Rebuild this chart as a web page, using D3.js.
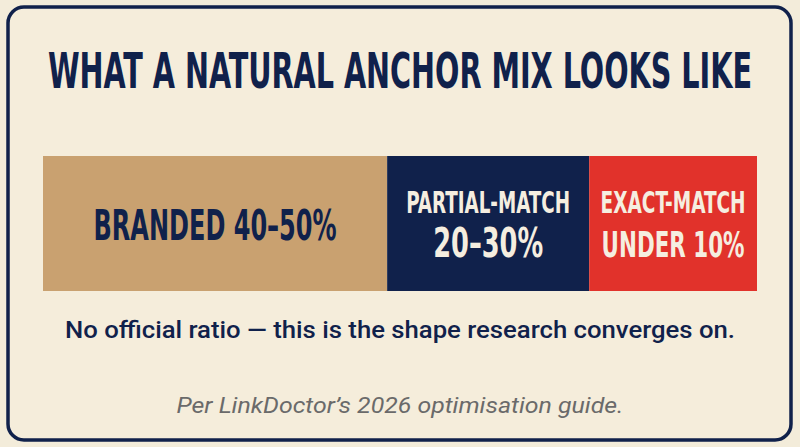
<!DOCTYPE html>
<html>
<head>
<meta charset="utf-8">
<title>Anchor mix</title>
<style>
  body { margin: 0; background: #f3ecda; }
  svg { display: block; }
</style>
</head>
<body>
<script src="https://d3js.org/d3.v7.min.js"></script>
<script>

var width = 800, height = 447;

// segment data (widths, as share of bar)
var segments = ['branded', 'partial', 'exact'];
var shares = [48.2, 28.3, 23.5];
var labels = [['BRANDED 40\u201350%'], ['PARTIAL-MATCH', '20\u201330%'], ['EXACT-MATCH', 'UNDER 10%']];
var labelWidths = [[243], [164, 110], [145, 143]];
var fills = ['#c9a170', '#10214b', '#e1322b'];
var textColors = ['#10214b', '#f5eee0', '#f5eee0'];

var navy = '#10214b';
var cond = '"DejaVu Sans Condensed", "DejaVu Sans", sans-serif';

var svg = d3.select('body').append('svg')
    .attr('width', width)
    .attr('height', height);

// card
svg.append('rect')
    .attr('x', 8).attr('y', 7)
    .attr('width', 783).attr('height', 433)
    .attr('rx', 16)
    .attr('fill', '#f5eddb')
    .attr('stroke', navy)
    .attr('stroke-width', 3.5);

svg.append('text')
    .attr('x', 400).attr('y', 88)
    .attr('text-anchor', 'middle')
    .attr('textLength', 704)
    .attr('lengthAdjust', 'spacingAndGlyphs')
    .style('font-family', cond)
    .style('font-weight', 'bold')
    .style('font-size', '49px')
    .attr('fill', navy)
    .text('WHAT A NATURAL ANCHOR MIX LOOKS LIKE');

var cum = [0];
shares.forEach(function (s, i) { cum.push(cum[i] + s); });

var x = d3.scaleLinear()
    .domain([0, d3.sum(shares)])
    .range([43, 757]);

var barTop = 156, barH = 135;

var seg = svg.selectAll('g.seg')
    .data(segments)
    .enter().append('g')
    .attr('class', 'seg');

seg.append('rect')
    .attr('x', function (d, i) { return x(cum[i]); })
    .attr('y', barTop)
    .attr('width', function (d, i) { return x(cum[i + 1]) - x(cum[i]); })
    .attr('height', barH)
    .attr('fill', function (d, i) { return fills[i]; });

seg.each(function (d, i) {
    var g = d3.select(this);
    var cx = (x(cum[i]) + x(cum[i + 1])) / 2;
    var lines = labels[i];
    lines.forEach(function (t, j) {
        var size, y;
        if (lines.length === 1) { size = 42; y = 240; }
        else if (j === 0) { size = 31; y = 213; }
        else { size = i === 1 ? 40 : 36; y = 257; }
        g.append('text')
            .attr('x', cx)
            .attr('y', y)
            .attr('text-anchor', 'middle')
            .attr('textLength', labelWidths[i][j])
            .attr('lengthAdjust', 'spacingAndGlyphs')
            .style('font-family', cond)
            .style('font-weight', 'bold')
            .style('font-size', size + 'px')
            .attr('fill', textColors[i])
            .text(t);
    });
});

svg.append('text')
    .attr('x', 400).attr('y', 338)
    .attr('text-anchor', 'middle')
    .attr('textLength', 670)
    .attr('lengthAdjust', 'spacingAndGlyphs')
    .style('font-family', 'Roboto, "Noto Sans", sans-serif')
    .style('font-weight', '500')
    .style('font-size', '24px')
    .attr('fill', navy)
    .text('No official ratio \u2014 this is the shape research converges on.');

svg.append('text')
    .attr('x', 400).attr('y', 413)
    .attr('text-anchor', 'middle')
    .attr('textLength', 447)
    .attr('lengthAdjust', 'spacingAndGlyphs')
    .style('font-family', 'Roboto, "Noto Sans", sans-serif')
    .style('font-style', 'italic')
    .style('font-size', '22px')
    .attr('fill', '#6a6a6a')
    .text('Per LinkDoctor\u2019s 2026 optimisation guide.');

</script>
</body>
</html>
